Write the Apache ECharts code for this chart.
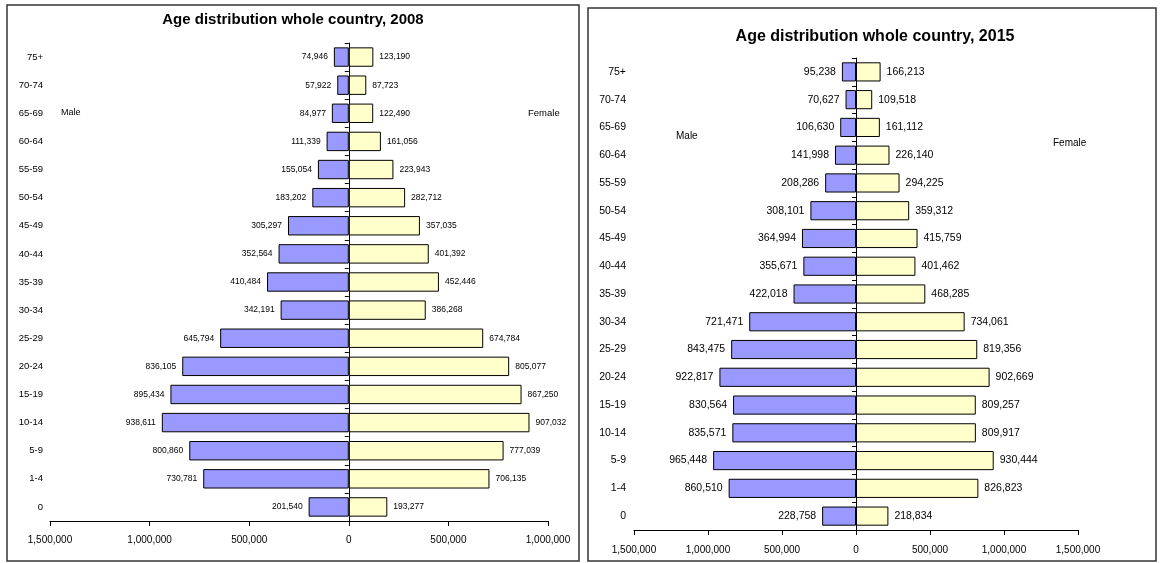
<!DOCTYPE html>
<html>
<head>
<meta charset="utf-8">
<script src="https://cdn.jsdelivr.net/npm/echarts@6/dist/echarts.min.js"></script>
<style>
html,body{margin:0;padding:0;background:#fff;}
#chart{width:1160px;height:563px;}
</style>
</head>
<body>
<div id="chart"></div>
<script>
const categories = ['75+','70-74','65-69','60-64','55-59','50-54','45-49','40-44','35-39','30-34','25-29','20-24','15-19','10-14','5-9','1-4','0'];
const male2008 = [74946,57922,84977,111339,155054,183202,305297,352564,410484,342191,645794,836105,895434,938611,800860,730781,201540];
const female2008 = [123190,87723,122490,161056,223943,282712,357035,401392,452446,386268,674784,805077,867250,907032,777039,706135,193277];
const male2015 = [95238,70627,106630,141998,208286,308101,364994,355671,422018,721471,843475,922817,830564,835571,965448,860510,228758];
const female2015 = [166213,109518,161112,226140,294225,359312,415759,401462,468285,734061,819356,902669,809257,809917,930444,826823,218834];
const title2008 = 'Age distribution whole country, 2008';
const title2015 = 'Age distribution whole country, 2015';
const xRange2008 = [-1500000, 1000000];
const xRange2015 = [-1500000, 1500000];
const tickStep = 500000;

const FONT = '"Liberation Sans", Arial, sans-serif';
const fmt = v => Math.abs(v).toLocaleString('en-US');
const MALE = '#9999FF', FEMALE = '#FFFFCC';

const chart = echarts.init(document.getElementById('chart'));

function yAxes(gridIndex, labelSize, labelMargin) {
  return [
    { gridIndex, type: 'category', data: categories, inverse: true, position: 'left',
      axisLine: { show: false, onZero: false }, axisTick: { show: false },
      axisLabel: { fontFamily: FONT, fontSize: labelSize, color: '#000', margin: labelMargin } },
    { gridIndex, type: 'category', data: categories, inverse: true, position: 'left',
      axisLine: { show: true, onZero: true, lineStyle: { color: '#000', width: 1 } },
      axisTick: { show: true, length: 4, lineStyle: { color: '#000' } },
      axisLabel: { show: false } }
  ];
}
function xAxis(gridIndex, range, labelSize, margin) {
  return { gridIndex, type: 'value', min: range[0], max: range[1], interval: tickStep,
    splitLine: { show: false },
    axisLine: { show: true, onZero: false, lineStyle: { color: '#000', width: 1 } },
    axisTick: { show: true, length: 5, lineStyle: { color: '#000' } },
    axisLabel: { fontFamily: FONT, fontSize: labelSize, color: '#000', margin, formatter: fmt } };
}
function bars(xi, yi, data, color, side, size) {
  return { type: 'bar', xAxisIndex: xi, yAxisIndex: yi,
    data: side === 'left' ? data.map(v => -v) : data,
    barWidth: '69%', barGap: '-100%', color,
    itemStyle: { color, borderColor: '#000', borderWidth: 1 },
    label: { show: true, position: side, distance: 6, fontFamily: FONT, fontSize: size, color: '#000',
      formatter: p => fmt(p.value) },
    emphasis: { disabled: true }, silent: true, animation: false };
}

chart.setOption({
  animation: false,
  title: [
    { text: title2008, left: 293, top: 12, textAlign: 'center', padding: 0,
      textStyle: { fontFamily: FONT, fontSize: 15, fontWeight: 'bold', color: '#000' } },
    { text: title2015, left: 875, top: 29, textAlign: 'center', padding: 0,
      textStyle: { fontFamily: FONT, fontSize: 16, fontWeight: 'bold', color: '#000' } }
  ],
  grid: [
    { left: 50, width: 498, top: 43, height: 478, containLabel: false },
    { left: 634, width: 444, top: 58, height: 472, containLabel: false }
  ],
  xAxis: [ xAxis(0, xRange2008, 10, 14), xAxis(1, xRange2015, 10, 15) ],
  yAxis: [ ...yAxes(0, 9.5, 7), ...yAxes(1, 10.5, 8) ],
  series: [
    bars(0, 0, male2008, MALE, 'left', 8.5),
    bars(0, 0, female2008, FEMALE, 'right', 8.5),
    bars(1, 2, male2015, MALE, 'left', 10.5),
    bars(1, 2, female2015, FEMALE, 'right', 10.5)
  ],
  graphic: [
    { type: 'rect', shape: { x: 7, y: 5, width: 572, height: 556 }, style: { fill: 'none', stroke: '#333', lineWidth: 1.5 }, silent: true },
    { type: 'rect', shape: { x: 588, y: 8, width: 568, height: 553 }, style: { fill: 'none', stroke: '#333', lineWidth: 1.5 }, silent: true },
    { type: 'text', x: 61, y: 113, style: { text: 'Male', fontFamily: FONT, fontSize: 9, fill: '#000', verticalAlign: 'middle' }, silent: true },
    { type: 'text', x: 528, y: 113, style: { text: 'Female', fontFamily: FONT, fontSize: 9.5, fill: '#000', verticalAlign: 'middle' }, silent: true },
    { type: 'text', x: 676, y: 136, style: { text: 'Male', fontFamily: FONT, fontSize: 10, fill: '#000', verticalAlign: 'middle' }, silent: true },
    { type: 'text', x: 1053, y: 143, style: { text: 'Female', fontFamily: FONT, fontSize: 10, fill: '#000', verticalAlign: 'middle' }, silent: true }
  ]
});
</script>
</body>
</html>
